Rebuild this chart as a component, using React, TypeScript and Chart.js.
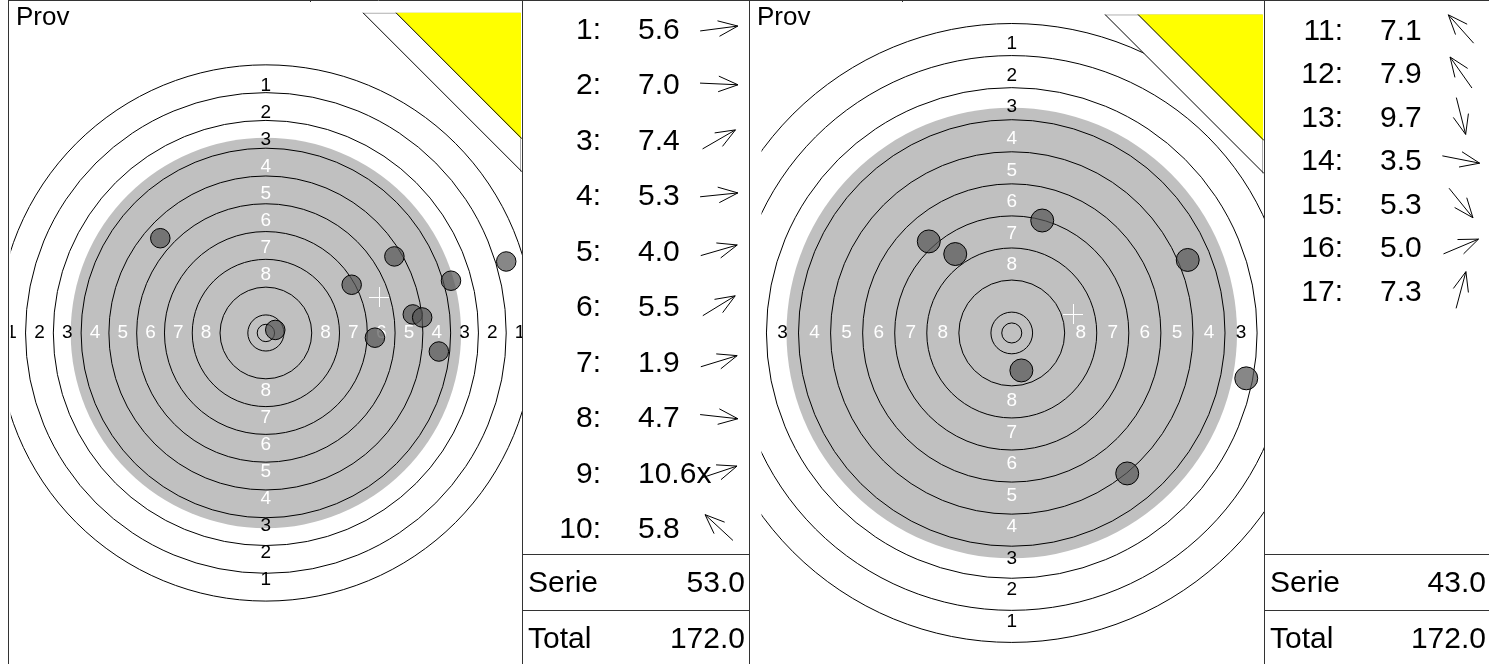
import { useEffect, useRef } from "react";
import { Chart, registerables } from "chart.js";
Chart.register(...registerables);

// ---- data ----
const ringNumbers = [1, 2, 3, 4, 5, 6, 7, 8, 9, 10];
const ringLabelNumbers = [1, 2, 3, 4, 5, 6, 7, 8];

const series1Shots = [1, 2, 3, 4, 5, 6, 7, 8, 9, 10];
const series1Scores = ["5.6", "7.0", "7.4", "5.3", "4.0", "5.5", "1.9", "4.7", "10.6x", "5.8"];
const series1X = [42.3, 31.4, 24.7, 45.0, 53.3, 37.0, 69.2, 49.8, 2.7, -30.4];
const series1Y = [5.5, -1.4, 14.3, 4.6, 15.5, 22.7, 21.2, -5.5, 0.9, 28.1];
const series1Serie = "53.0";

const series2Shots = [11, 12, 13, 14, 15, 16, 17];
const series2Scores = ["7.1", "7.9", "9.7", "3.5", "5.3", "5.0", "7.3"];
const series2X = [-20.7, -14.1, 2.4, 58.5, 28.8, 43.9, 7.6];
const series2Y = [23.2, 20.0, -9.5, -11.5, -35.6, 18.5, 28.5];
const series2Serie = "43.0";

const totalScore = "172.0";
const titleText = "Prov";

// ---- target geometry (mm) ----
const RING_WIDTH = 8;
const TEN_RADIUS = 5.2;
const X_RADIUS = 2.5;
const BLACK_RADIUS = 56.2;
const BULLET_RADIUS = 2.8;

const FONT = '"Liberation Sans", Arial, Helvetica, sans-serif';

type PanelCfg = {
  canvasLeft: number;
  canvasWidth: number;
  panelLeft: number;
  panelRight: number;
  cx: number;
  cy: number;
  scale: number;
  shots: number[];
  scores: string[];
  xs: number[];
  ys: number[];
  serie: string;
  rowBase: number;
  rowStep: number;
  tableRight: number;
  topTick: number;
};

function ringRadius(k: number) {
  return TEN_RADIUS + RING_WIDTH * (10 - k);
}

function drawArrow(ctx: CanvasRenderingContext2D, cx: number, cy: number, dx: number, dy: number) {
  const L = 38;
  const h = L / 2;
  const x0 = cx - dx * h, y0 = cy - dy * h, x1 = cx + dx * h, y1 = cy + dy * h;
  ctx.beginPath();
  ctx.moveTo(x0, y0);
  ctx.lineTo(x1, y1);
  const ang = Math.atan2(dy, dx) + Math.PI;
  for (const s of [-1, 1]) {
    const a = ang + s * 0.38;
    ctx.moveTo(x1, y1);
    ctx.lineTo(x1 + 21 * Math.cos(a), y1 + 21 * Math.sin(a));
  }
  ctx.stroke();
}

function makePlugin(cfg: PanelCfg) {
  const H = 664;
  return {
    id: "target",
    beforeDatasetsDraw(chart: any) {
      const ctx: CanvasRenderingContext2D = chart.ctx;
      const { left, right, top, bottom } = chart.chartArea;
      const sx = chart.scales.x, sy = chart.scales.y;
      const cx = sx.getPixelForValue(0), cy = sy.getPixelForValue(0);
      const rpx = (mm: number) => sx.getPixelForValue(mm) - cx;
      ctx.save();
      ctx.beginPath();
      ctx.rect(left, top, right - left, bottom - top);
      ctx.clip();
      ctx.fillStyle = "#ffffff";
      ctx.fillRect(left, top, right - left, bottom - top);
      // black (gray) area
      ctx.fillStyle = "#c0c0c0";
      ctx.beginPath();
      ctx.arc(cx, cy, rpx(BLACK_RADIUS), 0, Math.PI * 2);
      ctx.fill();
      // rings
      ctx.strokeStyle = "#000";
      ctx.lineWidth = 1;
      for (const k of ringNumbers) {
        ctx.beginPath();
        ctx.arc(cx, cy, rpx(ringRadius(k)), 0, Math.PI * 2);
        ctx.stroke();
      }
      ctx.beginPath();
      ctx.arc(cx, cy, rpx(X_RADIUS), 0, Math.PI * 2);
      ctx.stroke();
      // labels
      ctx.font = `19px ${FONT}`;
      ctx.textAlign = "center";
      ctx.textBaseline = "middle";
      for (const k of ringLabelNumbers) {
        const r = ringRadius(k) - RING_WIDTH / 2;
        ctx.fillStyle = k <= 3 ? "#000" : "#ffffff";
        const t = String(k);
        const pts = [
          [sx.getPixelForValue(0), sy.getPixelForValue(r)],
          [sx.getPixelForValue(0), sy.getPixelForValue(-r)],
          [sx.getPixelForValue(-r), sy.getPixelForValue(0)],
          [sx.getPixelForValue(r), sy.getPixelForValue(0)],
        ];
        for (const [x, y] of pts) ctx.fillText(t, x, y);
      }
      // corner
      const R = right;
      const T = top + 2;
      ctx.fillStyle = "#ffffff";
      ctx.beginPath();
      ctx.moveTo(R - 159, T);
      ctx.lineTo(R, T);
      ctx.lineTo(R, T + 159);
      ctx.closePath();
      ctx.fill();
      ctx.strokeStyle = "#b0b0b0";
      ctx.beginPath();
      ctx.moveTo(R - 159, T + 0.5);
      ctx.lineTo(R - 1.5, T + 0.5);
      ctx.lineTo(R - 1.5, T + 159);
      ctx.stroke();
      ctx.fillStyle = "#ffff00";
      ctx.beginPath();
      ctx.moveTo(R - 126, T);
      ctx.lineTo(R - 1, T);
      ctx.lineTo(R - 1, T + 126);
      ctx.closePath();
      ctx.fill();
      ctx.strokeStyle = "#000";
      ctx.beginPath();
      ctx.moveTo(R - 159, T);
      ctx.lineTo(R, T + 159);
      ctx.moveTo(R - 126, T);
      ctx.lineTo(R, T + 126);
      ctx.stroke();
      ctx.restore();
    },
    afterDatasetsDraw(chart: any) {
      const ctx: CanvasRenderingContext2D = chart.ctx;
      const sx = chart.scales.x, sy = chart.scales.y;
      // mean point cross
      const n = cfg.xs.length;
      const mx = cfg.xs.reduce((a, b) => a + b, 0) / n;
      const my = cfg.ys.reduce((a, b) => a + b, 0) / n;
      const px = Math.round(sx.getPixelForValue(mx)), py = Math.round(sy.getPixelForValue(my));
      ctx.save();
      ctx.strokeStyle = "#ffffff";
      ctx.lineWidth = 1;
      ctx.beginPath();
      ctx.moveTo(px - 10, py + 0.5);
      ctx.lineTo(px + 10, py + 0.5);
      ctx.moveTo(px + 0.5, py - 10);
      ctx.lineTo(px + 0.5, py + 10);
      ctx.stroke();

      // work in page coords
      ctx.translate(-cfg.canvasLeft, 0);
      // title
      ctx.fillStyle = "#000";
      ctx.font = `26px ${FONT}`;
      ctx.textAlign = "left";
      ctx.textBaseline = "alphabetic";
      ctx.fillText(titleText, cfg.panelLeft + 7, 25);

      // borders
      ctx.strokeStyle = "#333";
      ctx.beginPath();
      ctx.moveTo(cfg.panelLeft - 0.5, 0);
      ctx.lineTo(cfg.panelLeft - 0.5, H);
      ctx.moveTo(cfg.panelRight + 0.5, 0);
      ctx.lineTo(cfg.panelRight + 0.5, H);
      ctx.moveTo(cfg.panelLeft - 1, 0.5);
      ctx.lineTo(cfg.canvasLeft + cfg.canvasWidth, 0.5);
      ctx.moveTo(cfg.topTick + 0.5, 0);
      ctx.lineTo(cfg.topTick + 0.5, 2);
      const tl = cfg.panelRight + 1;
      ctx.moveTo(tl, 554.5);
      ctx.lineTo(cfg.canvasLeft + cfg.canvasWidth, 554.5);
      ctx.moveTo(tl, 610.5);
      ctx.lineTo(cfg.canvasLeft + cfg.canvasWidth, 610.5);
      ctx.stroke();

      // table
      ctx.font = `30px ${FONT}`;
      ctx.fillStyle = "#000";
      ctx.strokeStyle = "#000";
      ctx.lineWidth = 1;
      cfg.shots.forEach((num, i) => {
        const base = cfg.rowBase + cfg.rowStep * i;
        ctx.textAlign = "right";
        ctx.fillText(`${num}:`, tl + 78, base);
        ctx.textAlign = "left";
        ctx.fillText(cfg.scores[i], tl + 115, base);
        const dx = cfg.xs[i], dy = -cfg.ys[i];
        const len = Math.hypot(dx, dy) || 1;
        drawArrow(ctx, tl + 196, base - 10.5, dx / len, dy / len);
      });
      ctx.textAlign = "left";
      ctx.fillText("Serie", tl + 5, 591.5);
      ctx.fillText("Total", tl + 5, 648);
      ctx.textAlign = "right";
      ctx.fillText(cfg.serie, cfg.tableRight, 591.5);
      ctx.fillText(totalScore, cfg.tableRight, 648);
      ctx.restore();
    },
  };
}

function makeConfig(cfg: PanelCfg): any {
  const H = 664;
  const xMin = -(cfg.cx - cfg.panelLeft) / cfg.scale;
  const xMax = (cfg.panelRight - cfg.cx) / cfg.scale;
  const yMax = cfg.cy / cfg.scale;
  const yMin = -(H - cfg.cy) / cfg.scale;
  return {
    type: "scatter",
    data: {
      datasets: [
        {
          data: cfg.xs.map((x, i) => ({ x, y: cfg.ys[i] })),
          pointRadius: BULLET_RADIUS * cfg.scale,
          pointHoverRadius: BULLET_RADIUS * cfg.scale,
          pointBackgroundColor: "rgba(84,84,84,0.7)",
          pointBorderColor: "#000",
          pointBorderWidth: 1,
        },
      ],
    },
    options: {
      responsive: false,
      maintainAspectRatio: false,
      animation: false,
      devicePixelRatio: 1,
      events: [],
      layout: {
        padding: {
          left: cfg.panelLeft - cfg.canvasLeft,
          right: cfg.canvasLeft + cfg.canvasWidth - cfg.panelRight,
          top: 0,
          bottom: 0,
        },
      },
      plugins: { legend: { display: false }, tooltip: { enabled: false }, title: { display: false } },
      scales: {
        x: { type: "linear", min: xMin, max: xMax, display: false },
        y: { type: "linear", min: yMin, max: yMax, display: false },
      },
    },
    plugins: [makePlugin(cfg)],
  };
}

const leftCfg: PanelCfg = {
  canvasLeft: 0,
  canvasWidth: 749,
  panelLeft: 9,
  panelRight: 522,
  cx: 265,
  cy: 333,
  scale: 3.485,
  shots: series1Shots,
  scores: series1Scores,
  xs: series1X,
  ys: series1Y,
  serie: series1Serie,
  rowBase: 39,
  rowStep: 55.45,
  tableRight: 745,
  topTick: 310,
};

const rightCfg: PanelCfg = {
  canvasLeft: 749,
  canvasWidth: 740,
  panelLeft: 750,
  panelRight: 1264,
  cx: 1006,
  cy: 333,
  scale: 4.1,
  shots: series2Shots,
  scores: series2Scores,
  xs: series2X,
  ys: series2Y,
  serie: series2Serie,
  rowBase: 39.5,
  rowStep: 43.5,
  tableRight: 1486,
  topTick: 902,
};

export default function App() {
  const refA = useRef<HTMLCanvasElement>(null);
  const refB = useRef<HTMLCanvasElement>(null);
  useEffect(() => {
    document.body.style.margin = "0";
    const a = new Chart(refA.current as HTMLCanvasElement, makeConfig(leftCfg));
    const b = new Chart(refB.current as HTMLCanvasElement, makeConfig(rightCfg));
    return () => {
      a.destroy();
      b.destroy();
    };
  }, []);
  return (
    <div style={{ position: "fixed", left: 0, top: 0, width: 1489, height: 664, overflow: "hidden", background: "#fff" }}>
      <canvas ref={refA} width={749} height={664} style={{ position: "absolute", left: 0, top: 0 }} />
      <canvas ref={refB} width={740} height={664} style={{ position: "absolute", left: 749, top: 0 }} />
    </div>
  );
}
